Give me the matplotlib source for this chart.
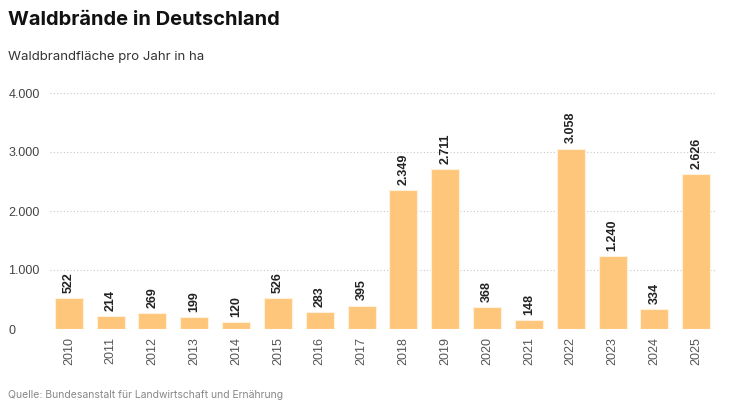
import matplotlib
matplotlib.use("Agg")
import matplotlib.pyplot as plt

years = [str(y) for y in range(2010, 2026)]
area_ha = [522, 214, 269, 199, 120, 526, 283, 395, 2349, 2711, 368, 148, 3058, 1240, 334, 2626]
yticks = [0, 1000, 2000, 3000, 4000]


def de(n):
    return f"{n:,}".replace(",", ".")


fig = plt.figure(figsize=(7.35, 4.13), dpi=100)
ax = fig.add_axes([50 / 735, 1 - 329 / 413, 665 / 735, (329 - 93) / 413])

x = range(len(years))
ax.bar(x, area_ha, width=0.67, color="#fec67b", edgecolor="#fff1dc", linewidth=0.8, zorder=2)
for i, v in zip(x, area_ha):
    ax.text(i, v + 90, de(v), rotation=90, ha="center", va="bottom",
            fontsize=9, fontweight="bold", family="Liberation Sans", color="#222222")

ax.set_xlim(-0.45, len(years) - 0.55)
ax.set_ylim(0, 4000)
ax.set_yticks(yticks)
ax.set_yticklabels([de(t) for t in yticks], family="Liberation Sans", fontsize=9, color="#444444")
ax.set_xticks(list(x))
ax.set_xticklabels(years, rotation=90, fontsize=9, family="Liberation Sans", color="#555555")
ax.tick_params(axis="both", length=0)
ax.tick_params(axis="x", pad=6)
for s in ax.spines.values():
    s.set_visible(False)
ax.yaxis.grid(True, linestyle=(0, (1, 2)), color="#c8c8c8", linewidth=0.8, zorder=0)
ax.set_axisbelow(True)
for lab in ax.get_yticklabels():
    lab.set_horizontalalignment("left")
ax.yaxis.set_tick_params(pad=30)

fig.text(8 / 735, 1 - 20 / 413, "Waldbrände in Deutschland", fontsize=14.5, fontweight="bold",
         family="Inter", va="center", color="#111111")
fig.text(8 / 735, 1 - 57 / 413, "Waldbrandfläche pro Jahr in ha", fontsize=9.5,
         family="Inter", va="center", color="#333333")
fig.text(8 / 735, 1 - 395 / 413, "Quelle: Bundesanstalt für Landwirtschaft und Ernährung",
         fontsize=7.5, family="Inter", va="center", color="#888888")

plt.savefig("out.png", dpi=100)
